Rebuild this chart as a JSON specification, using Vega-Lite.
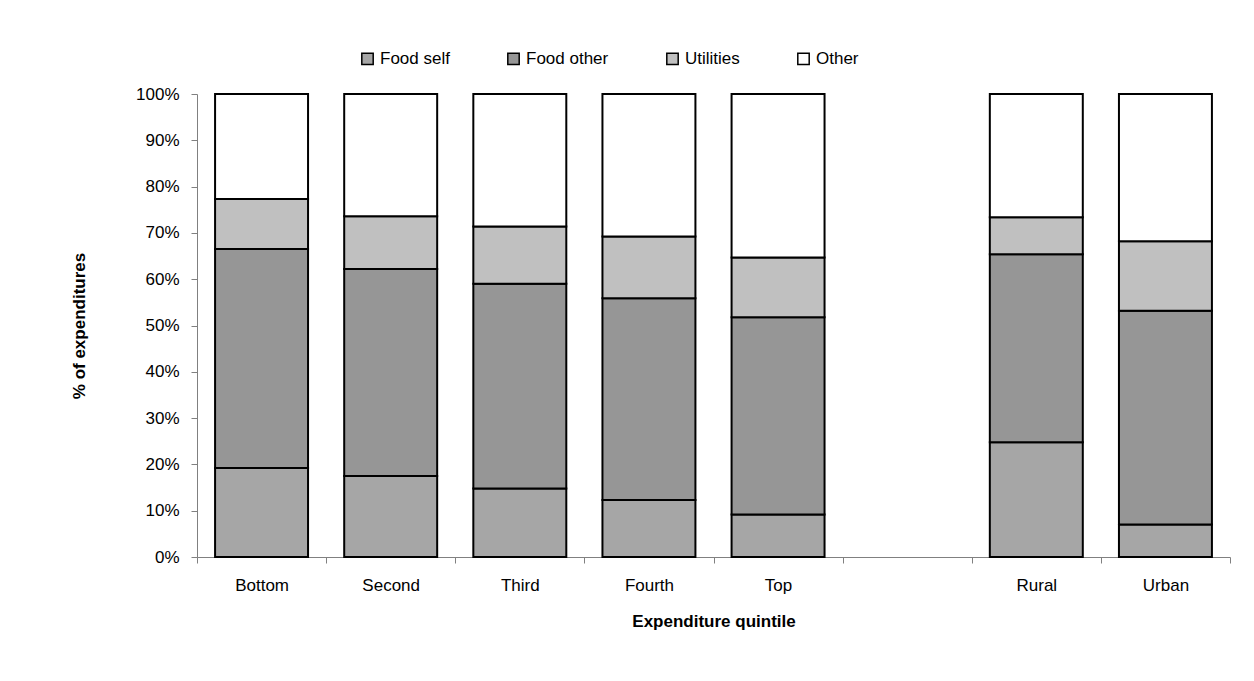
{
  "$schema": "https://vega.github.io/schema/vega-lite/v6.json",
  "width": 1033,
  "height": 463,
  "padding": {"left": 70, "top": 50, "right": 20, "bottom": 10},
  "background": "white",
  "config": {
    "font": "Liberation Sans",
    "view": {"stroke": null},
    "axis": {"grid": false, "labelColor": "black", "titleColor": "black", "labelFontSize": 17, "titleFontSize": 17, "titleFontWeight": "bold", "domainColor": "#808080", "tickColor": "#808080", "tickSize": 6}
  },
  "data": {
    "values": [
      {"group": "Bottom", "cat": "Food self", "k": 1, "share": 19.2},
      {"group": "Bottom", "cat": "Food other", "k": 2, "share": 47.3},
      {"group": "Bottom", "cat": "Utilities", "k": 3, "share": 10.8},
      {"group": "Bottom", "cat": "Other", "k": 4, "share": 22.7},
      {"group": "Second", "cat": "Food self", "k": 1, "share": 17.5},
      {"group": "Second", "cat": "Food other", "k": 2, "share": 44.7},
      {"group": "Second", "cat": "Utilities", "k": 3, "share": 11.4},
      {"group": "Second", "cat": "Other", "k": 4, "share": 26.4},
      {"group": "Third", "cat": "Food self", "k": 1, "share": 14.8},
      {"group": "Third", "cat": "Food other", "k": 2, "share": 44.2},
      {"group": "Third", "cat": "Utilities", "k": 3, "share": 12.4},
      {"group": "Third", "cat": "Other", "k": 4, "share": 28.6},
      {"group": "Fourth", "cat": "Food self", "k": 1, "share": 12.3},
      {"group": "Fourth", "cat": "Food other", "k": 2, "share": 43.6},
      {"group": "Fourth", "cat": "Utilities", "k": 3, "share": 13.3},
      {"group": "Fourth", "cat": "Other", "k": 4, "share": 30.8},
      {"group": "Top", "cat": "Food self", "k": 1, "share": 9.2},
      {"group": "Top", "cat": "Food other", "k": 2, "share": 42.6},
      {"group": "Top", "cat": "Utilities", "k": 3, "share": 12.9},
      {"group": "Top", "cat": "Other", "k": 4, "share": 35.3},
      {"group": "Rural", "cat": "Food self", "k": 1, "share": 24.8},
      {"group": "Rural", "cat": "Food other", "k": 2, "share": 40.6},
      {"group": "Rural", "cat": "Utilities", "k": 3, "share": 8.0},
      {"group": "Rural", "cat": "Other", "k": 4, "share": 26.6},
      {"group": "Urban", "cat": "Food self", "k": 1, "share": 7.0},
      {"group": "Urban", "cat": "Food other", "k": 2, "share": 46.2},
      {"group": "Urban", "cat": "Utilities", "k": 3, "share": 15.0},
      {"group": "Urban", "cat": "Other", "k": 4, "share": 31.8}
    ]
  },
  "mark": {"type": "bar", "stroke": "black", "strokeWidth": 2, "width": {"band": 0.72}},
  "encoding": {
    "x": {
      "field": "group",
      "type": "nominal",
      "scale": {"domain": ["Bottom", "Second", "Third", "Fourth", "Top", " ", "Rural", "Urban"], "paddingInner": 0, "paddingOuter": 0},
      "axis": {"title": "Expenditure quintile", "labelAngle": 0, "tickBand": "extent", "labelPadding": 14, "titlePadding": 20}
    },
    "y": {
      "field": "share",
      "type": "quantitative",
      "stack": "normalize",
      "scale": {"domain": [0, 1]},
      "axis": {"title": "% of expenditures", "format": ".0%", "values": [0, 0.1, 0.2, 0.3, 0.4, 0.5, 0.6, 0.7, 0.8, 0.9, 1], "labelPadding": 12, "titlePadding": 47}
    },
    "color": {
      "field": "cat",
      "type": "nominal",
      "scale": {"domain": ["Food self", "Food other", "Utilities", "Other"], "range": ["#a6a6a6", "#969696", "#c0c0c0", "#ffffff"]},
      "legend": {"orient": "none", "legendX": 162, "legendY": -44, "direction": "horizontal", "title": null, "symbolType": "square", "symbolSize": 130, "symbolStrokeColor": "black", "symbolStrokeWidth": 1.5, "symbolFillOpacity": 1, "labelFontSize": 17, "labelColor": "black", "labelOffset": 4, "columnPadding": 54}
    },
    "order": {"field": "k", "type": "quantitative"}
  }
}
